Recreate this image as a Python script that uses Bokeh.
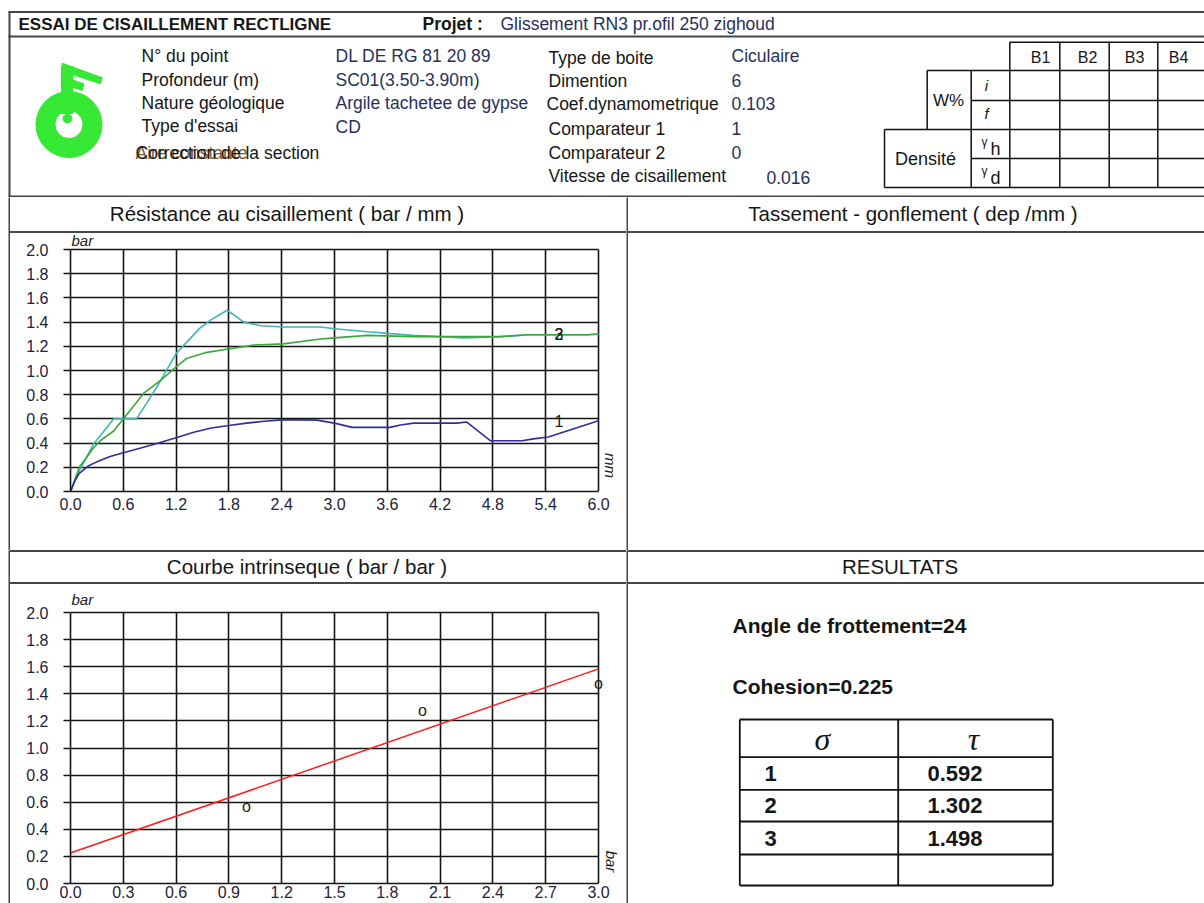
import numpy as np
from bokeh.plotting import figure
from bokeh.models import (Range1d, FixedTicker, PrintfTickFormatter, Label, LabelSet,
                          ColumnDataSource, Div)
from bokeh.layouts import row, column
from bokeh.core.properties import value
from bokeh.embed import file_html
from bokeh.resources import INLINE

# ---------------- data ----------------
# Résistance au cisaillement (bar) vs déplacement (mm)
s1_x = [0.0, 0.05, 0.1, 0.2, 0.3, 0.45, 0.6, 0.8, 1.0, 1.2, 1.4, 1.6, 1.8, 2.0, 2.2, 2.4,
        2.6, 2.8, 3.0, 3.2, 3.63, 3.75, 3.9, 4.39, 4.5, 4.77, 5.13, 5.26, 5.43, 5.64, 6.0]
s1_y = [0.0, 0.09, 0.15, 0.21, 0.245, 0.29, 0.32, 0.36, 0.40, 0.445, 0.49, 0.525, 0.545, 0.565, 0.58, 0.592,
        0.592, 0.59, 0.565, 0.53, 0.53, 0.55, 0.565, 0.565, 0.575, 0.42, 0.42, 0.435, 0.45, 0.50, 0.585]
s2_x = [0.0, 0.1, 0.26, 0.34, 0.49, 0.6, 0.83, 1.06, 1.2, 1.32, 1.55, 1.81, 2.08, 2.42, 2.84,
        3.0, 3.38, 3.89, 4.4, 4.88, 5.2, 5.87, 6.0]
s2_y = [0.0, 0.20, 0.36, 0.42, 0.50, 0.60, 0.81, 0.94, 1.03, 1.10, 1.15, 1.18, 1.21, 1.22, 1.26,
        1.27, 1.29, 1.28, 1.28, 1.28, 1.295, 1.295, 1.302]
s3_x = [0.0, 0.1, 0.26, 0.49, 0.6, 0.75, 0.98, 1.2, 1.47, 1.6, 1.78, 1.97, 2.16, 2.42, 2.84,
        3.0, 3.38, 3.89, 4.2, 4.47, 4.88, 5.2, 5.87, 6.0]
s3_y = [0.0, 0.17, 0.39, 0.60, 0.60, 0.60, 0.86, 1.14, 1.35, 1.42, 1.498, 1.40, 1.37, 1.36, 1.36,
        1.345, 1.32, 1.29, 1.28, 1.27, 1.28, 1.295, 1.295, 1.30]
curve_names = ["1", "2", "3"]

# Courbe intrinsèque
sigma = [1, 2, 3]
tau = [0.592, 1.302, 1.498]

x_ticks_top = [0.0, 0.6, 1.2, 1.8, 2.4, 3.0, 3.6, 4.2, 4.8, 5.4, 6.0]
x_ticks_bot = [0.0, 0.3, 0.6, 0.9, 1.2, 1.5, 1.8, 2.1, 2.4, 2.7, 3.0]
y_ticks = [0.0, 0.2, 0.4, 0.6, 0.8, 1.0, 1.2, 1.4, 1.6, 1.8, 2.0]

info_labels = ["N° du point", "Profondeur (m)", "Nature géologique", "Type d'essai"]
info_values = ["DL DE RG 81 20 89", "SC01(3.50-3.90m)", "Argile tachetee de gypse", "CD"]
box_labels = ["Type de boite", "Dimention", "Coef.dynamometrique", "Comparateur 1",
              "Comparateur 2", "Vitesse de cisaillement"]
box_values = ["Ciculaire", "6", "0.103", "1", "0", "0.016"]
b_cols = ["B1", "B2", "B3", "B4"]

# ---------------- style ----------------
FONT = "Liberation Sans"
FRAME = "#454545"
INK = "#161616"
VAL = "#27305c"
GREEN = "#34e834"
TL = "#111111"
GRID = "#141414"


def pfig(x0, x1, y0, y1):
    p = figure(width=int(round(x1 - x0)), height=int(round(y1 - y0)),
               x_range=Range1d(x0, x1), y_range=Range1d(y1, y0), min_border=0,
               toolbar_location=None, output_backend="svg",
               x_axis_type=None, y_axis_type=None, title=None)
    p.outline_line_color = None
    p.background_fill_color = "white"
    p.border_fill_color = "white"
    return p


def fill_fig(w, h, color):
    p = figure(width=w, height=h, x_range=Range1d(0, 1), y_range=Range1d(0, 1),
               min_border=0, toolbar_location=None, output_backend="svg",
               x_axis_type=None, y_axis_type=None, title=None)
    p.outline_line_color = None
    p.background_fill_color = color
    p.border_fill_color = color
    return p


def strip_div(w, h, text, center, top_line):
    pad = w - 2 * center
    inner = h - 2 - (2 if top_line else 0)
    st = {"box-sizing": "border-box", "border-bottom": "2px solid " + FRAME,
          "font-family": FONT, "font-size": "20.5px", "color": INK,
          "text-align": "center", "line-height": "%dpx" % inner,
          "white-space": "nowrap", "background-color": "white", "overflow": "hidden"}
    if top_line:
        st["border-top"] = "2px solid " + FRAME
    if pad >= 0:
        st["padding-right"] = "%dpx" % pad
    else:
        st["padding-left"] = "%dpx" % (-pad)
    return Div(text=text, width=w, height=h, margin=(0, 0, 0, 0), styles=st)


def txt(p, xs, ys, texts, size="17.5px", color=INK, align="left", style="normal",
        font=FONT, baseline="middle"):
    p.text(x=xs, y=ys, text=texts, text_font=value(font), text_font_size=size,
           text_color=color, text_align=align, text_baseline=baseline,
           text_font_style=style)


def hline(p, x0, x1, y, color=FRAME, w=2):
    p.segment(x0=[x0], y0=[y], x1=[x1], y1=[y], line_color=color, line_width=w)


def vline(p, x, y0, y1, color=FRAME, w=2):
    p.segment(x0=[x], y0=[y0], x1=[x], y1=[y1], line_color=color, line_width=w)


# ---------------- header (page pixel coordinates) ----------------
hd = pfig(0, 1204, 0, 197)
hline(hd, 8, 1204, 11.5)
hline(hd, 8, 1204, 36)
hline(hd, 8, 1204, 196)
vline(hd, 9, 11, 197)
txt(hd, [18], [24], ["ESSAI DE CISAILLEMENT RECTLIGNE"], size="17px", style="bold")
txt(hd, [422], [23], ["Projet :"], size="17.5px", style="bold")
txt(hd, [500], [23], ["Glissement  RN3 pr.ofil 250 zighoud"], size="17.5px", color=VAL)

# logo
hd.annulus(x=[68.5], y=[124], inner_radius=14, outer_radius=33, color=GREEN)
hd.quad(left=[61], right=[72.5], top=[66], bottom=[113], color=GREEN)
hd.scatter(x=[67], y=[118], size=9, color=GREEN)
hd.patches(xs=[[61.7, 101.7, 100, 61.7], [61.7, 83.3, 81.7, 61.7]],
           ys=[[62.7, 77.3, 83.3, 70.7], [76, 83.3, 90, 83.3]], color=GREEN)

txt(hd, [141] * 4, [55, 79, 102, 125], info_labels)
txt(hd, [135], [152], ["Aire constante"], color="#7a5a2a")
txt(hd, [135], [152], ["Correction de la section"])
txt(hd, [335] * 4, [55, 79, 102, 126], info_values, color=VAL)
txt(hd, [548, 548, 546, 548, 548, 548], [57, 80, 103, 128, 152, 175], box_labels)
txt(hd, [731, 731, 731, 731, 731, 766], [55, 80, 103, 128, 152, 177], box_values, color=VAL)

# W% / densité table
for (x0, y) in [(1009, 41.7), (926.7, 70), (970.7, 100), (884, 129), (970.7, 158), (884, 187)]:
    hline(hd, x0, 1204, y, color=TL, w=1.5)
for x in [1009.3, 1059.3, 1108.7, 1157.3]:
    vline(hd, x, 41.7, 187, color=TL, w=1.5)
vline(hd, 970.7, 70, 187, color=TL, w=1.5)
vline(hd, 926.7, 70, 129, color=TL, w=1.5)
vline(hd, 884, 129, 187, color=TL, w=1.5)
txt(hd, [1040, 1087, 1134, 1178], [57] * 4, b_cols, size="16px", align="center")
txt(hd, [948], [100], ["W%"], size="17px", align="center")
txt(hd, [986, 986], [85, 113], ["i", "f"], size="15px", align="center", style="italic")
txt(hd, [925], [158], ["Densité"], size="18px", align="center")
txt(hd, [984, 984], [141, 170], ["γ", "γ"], size="12px", align="center")
txt(hd, [995, 995], [148, 177], ["h", "d"], size="18px", align="center")


# ---------------- charts ----------------
def make_chart(fig_box, frame_box, xt, x_max):
    """fig_box / frame_box: (left, right, top, bottom) in page pixels.
    The frame is extended to the figure's right/top edges so that side texts are visible."""
    fl, fr, ft, fb = fig_box
    al, ar, at, ab = frame_box
    y_max = y_ticks[-1]
    px_x = (ar - al) / x_max
    px_y = (ab - at) / y_max
    p = figure(width=fr - fl, height=fb - ft,
               x_range=Range1d(0, x_max + (fr - ar) / px_x),
               y_range=Range1d(0, y_max + (at - ft) / px_y),
               min_border_left=al - fl, min_border_right=0, min_border_top=0,
               min_border_bottom=fb - ab, toolbar_location=None,
               output_backend="svg", title=None)
    p.xaxis.ticker = FixedTicker(ticks=xt)
    p.yaxis.ticker = FixedTicker(ticks=y_ticks)
    p.xaxis.bounds = (0, x_max)
    p.yaxis.bounds = (0, y_max)
    p.outline_line_color = None
    try:
        p.xgrid.ticker = FixedTicker(ticks=xt)
        p.ygrid.ticker = FixedTicker(ticks=y_ticks)
        p.xgrid.cross_bounds = (0, y_max)
        p.ygrid.cross_bounds = (0, x_max)
        for g in (p.xgrid, p.ygrid):
            g.grid_line_color = GRID
            g.grid_line_width = 1.6
            g.grid_line_alpha = 1.0
    except Exception:
        p.xgrid.visible = False
        p.ygrid.visible = False
        p.segment(x0=xt, y0=[0] * len(xt), x1=xt, y1=[y_max] * len(xt),
                  line_color=GRID, line_width=1.6)
        p.segment(x0=[0] * len(y_ticks), y0=y_ticks, x1=[x_max] * len(y_ticks),
                  y1=y_ticks, line_color=GRID, line_width=1.6)
    for ax in (p.xaxis, p.yaxis):
        ax.formatter = PrintfTickFormatter(format="%.1f")
        ax.axis_line_color = GRID
        ax.axis_line_width = 1.6
        ax.major_tick_line_color = GRID
        ax.major_tick_line_width = 1.6
        ax.minor_tick_line_color = None
        ax.major_tick_in = 0
        ax.major_label_text_font = FONT
        ax.major_label_text_font_size = "16px"
        ax.major_label_text_color = "#22223c"
    p.yaxis.major_tick_out = 7
    p.yaxis.major_label_standoff = 15
    p.xaxis.major_tick_out = 0
    p.background_fill_color = "white"
    p.border_fill_color = "white"
    return p


def side_label(p, x, y, text, xo, yo, angle=0.0, align="left", baseline="bottom"):
    p.add_layout(Label(x=x, y=y, text=text, x_offset=xo, y_offset=yo, angle=angle,
                       text_font=FONT, text_font_size="15px", text_font_style="italic",
                       text_align=align, text_baseline=baseline, text_color="#222222"))


# top chart: figure page box x 10..626, y 233..550; frame x 70..598, y 249..491
pt = make_chart((10, 626, 233, 550), (70, 598, 249, 491), x_ticks_top, x_ticks_top[-1])
pt.xaxis.major_label_standoff = 6
pt.line(s3_x, s3_y, line_color="#40b4b4", line_width=1.6)
pt.line(s2_x, s2_y, line_color="#3aa83a", line_width=1.6)
pt.line(s1_x, s1_y, line_color="#2e2e9e", line_width=1.6)
lab_src = ColumnDataSource(dict(x=[5.55] * 3, y=[s1_y[-1], s2_y[-1], s3_y[-1]], t=curve_names))
pt.add_layout(LabelSet(x="x", y="y", text="t", source=lab_src, text_font=value(FONT),
                       text_font_size=value("16px"), text_color="#222222",
                       text_align="center", text_baseline="middle"))
side_label(pt, 0, y_ticks[-1], "bar", 1, 1)
side_label(pt, x_ticks_top[-1], 0, "mm", 12, 26, angle=-np.pi / 2, align="center",
           baseline="middle")

# bottom chart: figure page box x 10..626, y 584..903; frame x 70..598, y 612..883
pb = make_chart((10, 626, 584, 903), (70, 598, 612, 883), x_ticks_bot, x_ticks_bot[-1])
pb.xaxis.major_label_standoff = 2
slope, intercept = np.polyfit(sigma, tau, 1)
fit_x = np.array([x_ticks_bot[0], x_ticks_bot[-1]])
pb.line(fit_x, intercept + slope * fit_x, line_color="#ff1a1a", line_width=1.5)
pts_src = ColumnDataSource(dict(x=sigma, y=tau, t=["o"] * len(sigma)))
pb.add_layout(LabelSet(x="x", y="y", text="t", source=pts_src, text_font=value(FONT),
                       text_font_size=value("16px"), text_color="#222222",
                       text_align="center", text_baseline="middle", y_offset=-3))
side_label(pb, 0, y_ticks[-1], "bar", 1, 5)
side_label(pb, x_ticks_bot[-1], 0, "bar", 13, 22, angle=-np.pi / 2, align="center",
           baseline="middle")

blank = pfig(628, 1204, 233, 550)

# ---------------- results ----------------
res = pfig(628, 1204, 584, 903)
angle = np.degrees(np.arctan(slope))
txt(res, [732], [625], ["Angle de frottement=%d" % int(angle)], size="21px", style="bold")
txt(res, [732], [686], ["Cohesion=%.3f" % intercept], size="21px", style="bold")
row_lines = [719, 756.7, 789.3, 821, 854, 885]
for y in row_lines:
    hline(res, 739.3, 1052.3, y, color=TL, w=1.8)
for x in [739.3, 897.7, 1052.3]:
    vline(res, x, row_lines[0], row_lines[-1], color=TL, w=1.8)
txt(res, [822, 973], [738, 738], ["σ", "τ"], size="32px", align="center",
    style="italic", font="Liberation Serif")
row_y = [(row_lines[i + 1] + row_lines[i + 2]) / 2 for i in range(len(sigma))]
txt(res, [764] * len(sigma), row_y, [str(s) for s in sigma], size="22px", style="bold")
txt(res, [927] * len(tau), row_y, ["%.3f" % t for t in tau], size="22px", style="bold")

# ---------------- page layout ----------------
W_L, W_R = 616, 576
s1 = strip_div(W_L, 36, "Résistance au cisaillement ( bar / mm )", 287 - 10, False)
s2 = strip_div(W_R, 36, "Tassement - gonflement ( dep /mm )", 913 - 628, False)
s3 = strip_div(W_L, 34, "Courbe intrinseque ( bar  / bar )", 307 - 10, True)
s4 = strip_div(W_R, 34, "RESULTATS", 900 - 628, True)

layout = column(
    hd,
    row(fill_fig(8, 353, "white"), fill_fig(2, 353, FRAME),
        column(s1, pt), fill_fig(2, 353, FRAME), column(s2, blank)),
    row(fill_fig(8, 353, "white"), fill_fig(2, 353, FRAME),
        column(s3, pb), fill_fig(2, 353, FRAME), column(s4, res)),
)

open("out.html", "w").write(file_html(layout, INLINE))
